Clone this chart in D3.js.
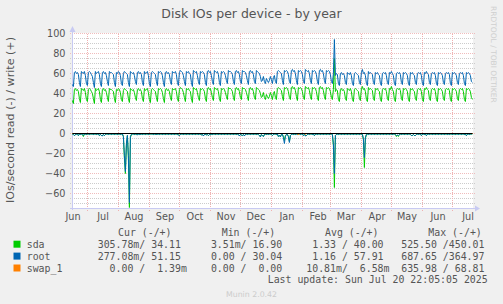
<!DOCTYPE html>
<html>
<head>
<meta charset="utf-8">
<script src="https://cdn.jsdelivr.net/npm/d3@7"></script>
<style>
  body { margin: 0; background: #f0f0f0; }
  svg { display: block; }
  text { font-family: "DejaVu Sans", sans-serif; fill: #555; }
  .mono { font-family: "DejaVu Sans Mono", monospace; white-space: pre; font-size: 9.9px; }
</style>
</head>
<body>
<svg id="chart" width="503" height="304"></svg>
<script>
// daily averages, Jun 15 2024 (Sat) .. Jul 20 2025 (Sun), one row per week (Sat..Fri)
const rootWrite = [
49,47,61,62,60,61,59, 51,47,62,61,60,62,58, 50,48,61,62,61,59,57, 51,46,62,60,61,62,59,
50,47,61,62,60,61,58, 52,48,62,61,61,60,59, 51,47,61,60,62,61,58, 50,48,60,62,61,60,59,
51,47,62,61,60,61,58, 52,49,61,62,60,61,59, 51,48,62,60,61,62,58, 50,47,61,62,61,60,59,
52,48,62,61,62,61,58, 51,47,61,62,60,61,59, 52,49,62,61,61,62,59, 51,48,61,63,62,61,58,
52,48,62,61,62,60,59, 51,47,63,62,61,62,58, 52,49,62,61,62,61,59, 51,48,62,63,61,62,58,
52,49,63,62,61,62,59, 51,48,62,61,62,61,58, 53,50,63,62,62,61,59, 52,49,62,63,61,62,59,
52,50,63,62,62,61,58, 53,49,62,63,61,62,59, 52,50,63,62,61,60,57, 52,53,57,52,50,55,53,
51,53,57,54,50,56,58, 52,50,62,63,62,61,60, 53,49,63,62,63,62,59, 52,50,63,64,62,63,60,
53,49,63,62,63,62,59, 52,50,64,63,62,63,60, 53,50,63,62,63,62,59, 52,49,63,64,62,63,60,
53,50,63,62,63,62,59, 52,50,60,94,58,60,59, 50,48,60,61,59,60,58, 51,49,61,60,59,61,58,
50,48,60,61,60,59,58, 51,49,61,64,60,61,58, 50,48,62,60,61,60,59, 51,49,61,60,61,59,58,
50,48,60,61,60,61,58, 51,49,61,60,62,60,58, 50,48,60,61,60,61,59, 51,49,61,60,61,60,58,
50,48,61,60,61,59,58, 51,49,60,61,60,61,58, 50,48,61,60,62,60,59, 51,49,60,61,60,61,58,
50,48,61,60,61,60,58, 51,49,60,61,60,61,59, 50,48,61,60,61,60,58, 51,49,60,61,60,61,58,
50,48,61,60,61,60,58, 52,51.15
];
const sdaWrite = [
33,30,44,45,43,44,42, 35,31,45,44,43,45,41, 34,32,44,45,44,42,40, 35,30,45,43,44,45,42,
34,31,44,45,43,44,41, 36,32,45,44,44,43,42, 35,31,44,43,45,44,41, 34,32,43,45,44,43,42,
35,31,45,44,43,44,41, 36,33,44,45,43,44,42, 35,32,45,43,44,45,41, 34,31,44,45,44,43,42,
36,32,45,44,45,44,41, 35,31,44,45,43,44,42, 36,33,45,44,44,45,42, 35,32,44,46,45,44,41,
36,32,45,44,45,43,42, 35,31,46,45,44,45,41, 36,33,45,44,45,44,42, 35,32,45,46,44,45,41,
36,33,46,45,44,45,42, 35,32,45,44,45,44,41, 37,34,46,45,45,44,42, 36,33,45,46,44,45,42,
36,34,46,45,45,44,41, 37,33,45,46,44,45,42, 36,34,46,45,44,43,40, 36,37,41,36,34,39,37,
35,37,41,38,34,40,42, 36,34,45,46,45,44,43, 37,33,46,45,46,45,42, 36,34,46,47,45,46,43,
37,33,46,45,46,45,42, 36,34,47,46,45,46,43, 37,34,46,45,46,45,42, 36,33,46,47,45,46,43,
37,34,46,45,46,45,42, 36,34,44,75,42,44,43, 34,32,44,45,43,44,42, 35,33,45,44,43,45,42,
34,32,44,45,44,43,42, 35,33,45,47,44,45,42, 34,32,46,44,45,44,43, 35,33,45,44,45,43,42,
34,32,44,45,44,45,42, 35,33,45,44,47,44,42, 34,32,44,45,44,45,43, 35,33,45,44,45,44,42,
34,32,45,44,45,43,42, 35,33,44,45,44,45,42, 34,32,45,44,46,44,43, 35,33,44,45,44,45,42,
34,32,45,44,45,44,42, 35,33,44,45,44,45,43, 34,32,45,44,45,44,42, 35,33,44,45,44,45,42,
34,32,45,44,45,44,42, 36,34.11
];
// reads, drawn below zero
const sdaRead = [
0.5,1,2,1,0.5,1,2,0.5,1,0.5,1,3,0.5,0.5,1,0.5,0.5,1,0.5,0.5,
0.5,1,0.5,0.5,1,0.5,0.5,2,1,2,2,1,2,1,0.5,0.5,1,0.5,0.5,1,
0.5,0.5,1,0.5,0.5,1,0.5,0.5,1,0.5,0.5,3,25,40,12,2,25,74,4,1,
0.5,0.5,1,0.5,1,1,0.5,1,1,0.5,1,0.5,0.5,1,0.5,0.5,1,0.5,0.5,0.5,
0.5,1,0.5,0.5,1.5,0.5,0.5,1,0.5,0.5,1,0.5,0.5,1,0.5,0.5,1,0.5,0.5,1,
0.5,0.5,1,0.5,0.5,1,1,2,1,0.5,0.5,1,0.5,0.5,1,0.5,0.5,1,0.5,0.5,
1,0.5,0.5,1,0.5,0.5,1,0.5,0.5,1.5,1,2,1,0.5,1.5,1,2,1,1.5,0.5,
1,0.5,0.5,1,0.5,0.5,1,0.5,0.5,1,0.5,0.5,1,0.5,0.5,1,0.5,0.5,1,0.5,
0.5,1,0.5,0.5,1,0.5,1,2,1,1.5,2,1,2,1,0.5,1,0.5,0.5,1,0.5,
0.5,1,0.5,0.5,1,0.5,1,2,3,1,2,3,1,0.5,1,0.5,1,0.5,0.5,1,
2,1,0.5,0.5,1,0.5,3,2,3,1,1,3,7,2,1,1,3,8,2,1,
0.5,1,0.5,1,0.5,1,1,0.5,1,0.5,0.5,2,1,2,2,1,0.5,1,0.5,0.5,
1,0.5,2,1,0.5,1,0.5,0.5,1,0.5,0.5,1,0.5,0.5,1,0.5,0.5,1,0.5,0.5,
1,12,54,2,1,0.5,1,0.5,0.5,1,0.5,0.5,1,0.5,0.5,1,0.5,0.5,1,0.5,
0.5,1,0.5,0.5,1,0.5,0.5,1,0.5,0.5,1,6,34,5,1,0.5,1,0.5,0.5,1,
0.5,0.5,1,0.5,0.5,1,0.5,0.5,1,0.5,0.5,1,0.5,0.5,1,0.5,0.5,1,0.5,0.5,
1,0.5,0.5,1,3,2,3,1,0.5,1,0.5,0.5,1,0.5,0.5,1,0.5,0.5,1,2,
2,1,2,2,1,0.5,1,0.5,0.5,2,1,0.5,1,0.5,2,1,0.5,1,0.5,0.5,
1,0.5,0.5,1,0.5,0.5,1,0.5,0.5,1,0.5,0.5,1,0.5,0.5,1,0.5,1,0.5,0.5,
1,0.5,0.5,1,0.5,0.5,1,0.5,0.5,1,0.5,0.5,1,0.5,2,1,0.5,1,0.5,0.5,
0.31
];
const rootRead = [
0.5,1,2,1.5,0.5,1,2,0.5,1,0.5,1,2,0.5,0.5,1,0.5,0.5,1,0.5,0.5,
0.5,1,0.5,0.5,1,0.5,0.5,2,1,2,2.5,1,2,1,0.5,0.5,1,0.5,0.5,1,
0.5,0.5,1,0.5,0.5,1,0.5,0.5,1,0.5,0.5,3,22,38,10,2,22,69,3,1,
0.5,0.5,1,0.5,1,1.5,0.5,1,1,0.5,1,0.5,0.5,1,0.5,0.5,1,0.5,0.5,0.5,
0.5,1,0.5,0.5,1.5,0.5,0.5,1,0.5,0.5,1,0.5,0.5,1,0.5,0.5,1,0.5,0.5,1,
0.5,0.5,1,0.5,0.5,1,1.5,2,1,0.5,0.5,1,0.5,0.5,1,0.5,0.5,1,0.5,0.5,
1,0.5,0.5,1,0.5,0.5,1,0.5,0.5,1.5,1,2.5,1,0.5,1.5,1,2,1,1.5,0.5,
1,0.5,0.5,1,0.5,0.5,1,0.5,0.5,1,0.5,0.5,1,0.5,0.5,1,0.5,0.5,1,0.5,
0.5,1,0.5,0.5,1,0.5,1,2.5,1,1.5,2,1,2.5,1,0.5,1,0.5,0.5,1,0.5,
0.5,1,0.5,0.5,1,0.5,1,2,3.5,1,2,3,1,0.5,1,0.5,1,0.5,0.5,1,
2,1,0.5,0.5,1,0.5,3,2,3.5,1,1,4,10,3,1,1,3,9,2,1,
0.5,1,0.5,1,0.5,1,1,0.5,1,0.5,0.5,2,1,2.5,2,1,0.5,1,0.5,0.5,
1,0.5,2,1,0.5,1,0.5,0.5,1,0.5,0.5,1,0.5,0.5,1,0.5,0.5,1,0.5,0.5,
1,10,40,2,1,0.5,1,0.5,0.5,1,0.5,0.5,1,0.5,0.5,1,0.5,0.5,1,0.5,
0.5,1,0.5,0.5,1,0.5,0.5,1,0.5,0.5,1,5,24,4,1,0.5,1,0.5,0.5,1,
0.5,0.5,1,0.5,0.5,1,0.5,0.5,1,0.5,0.5,1,0.5,0.5,1,0.5,0.5,1,0.5,0.5,
1,0.5,0.5,1,2,1.5,2,1,0.5,1,0.5,0.5,1,0.5,0.5,1,0.5,0.5,1,2,
2,1,2,2,1,0.5,1,0.5,0.5,2,1,0.5,1,0.5,2,1,0.5,1,0.5,0.5,
1,0.5,0.5,1,0.5,0.5,1,0.5,0.5,1,0.5,0.5,1,0.5,0.5,1,0.5,1,0.5,0.5,
1,0.5,0.5,1,0.5,0.5,1,0.5,0.5,1,0.5,0.5,1,0.5,2,1,0.5,1,0.5,0.5,
0.28
];
const swapRead = [
0,0,0,0,0,0,0,0,0,0,0,0,0,0,0,0,0,0,0,0, 0,0,0,0,0,0,0,0,0,0,0,0,0,0,0,0,0,0,0,0,
0,0,0,0,0,0,0,0,0,0,0,0,0,0,0,0,0,0,0,0, 0,0,0,0,0,0,0,0,0,0,0,0,0,0,0,0,0,0,0,0,
0,0,0,0,0,0,0,0,0,0,0,0,0,0,0,0,0,0,0,0, 0,0,0,0,0,0,0,0,0,0,0,0,0,0,0,0,0,0,0,0,
0,0,0,0,0,0,0,0,0,0,0,0,0,0,0,0,0,0,0,0, 0,0,0,0,0,0,0,0,0,0,0,0,0,0,0,0,0,0,0,0,
0,0,0,0,0,0,0,0,0,0,0,0,0,0,0,0,0,0,0,0, 0,0,0,0,0,0,0,0,0,0,0,0,0,0,0,0,0,0,0,0,
0,0,0,0,0,0,0,0,0,0,0,0,0,0,0,0,0,0,0,0, 0,0,0,0,0,0,1.5,0,0,0,0,0,0,1,0,0,0,0,0,0,
0,0,0,0,0,0,0,0,0,0,0,0,0,0,0,0,0,0,0,0, 0,0,0,0,0,0,0,0,0,0,0,0,0,0,0,0,0,0,0,0,
0,0,0,0,0,0,0,0,0,0,0,0,0,0,0,0,0,0,0,0, 0,0,0,0,0,0,0,0,0,0,0,0,0,0,0,0,0,0,0,0,
0,0,0,0,0,0,0,0,0,0,0,0,0,0,0,0,0,0,0,0, 0,0,0,0,0,0,0,0,0,0,0,0,0,0,0,0,0,0,0,0,
0,0,0,0,0,0,0,0,0,0,0,0,0,0,0,0,0,0,0,0, 0,0,0,0,0,0,0,0,0,0,0,0,0,0,0,0,0,0,0,0,
0
];
const swapWrite = [
0,0,0,0,0,0,0,0,0,0,0,0,0,0,0,0,0,0,0,0, 0,0,0,0,0,0,0,0,0,0,0,0,0,0,0,0,0,0,0,0,
0,0,0,0,0,0,0,0,0,0,0,0,0,0,0,0,0,0,0,0, 0,0,0,0,0,0,0,0,0,0,0,0,0,0,0,0,0,0,0,0,
0,0,0,0,0,0,0,0,0,0,0,0,0,0,0,0,0,0,0,0, 0,0,0,0,0,0,0,0,0,0,0,0,0,0,0,0,0,0,0,0,
0,0,0,0,0,0,0,0,0,0,0,0,0,0,0,0,0,0,0,0, 0,0,0,0,0,0,0,0,0,0,0,0,0,0,0,0,0,0,0,0,
0,0,0,0,0,0,0,0,0,0,0,0,0,0,0,0,0,0,0,0, 0,0,0,0,0,0,0,0,0,0,0,0,0,0,0,0,0,0,0,0,
0,0,0,0,0,0,0,0,0,0,0,0,0,0,0,0,0,0,0,0, 0,0,0,0,0,0,0,0,0,0,0,0,0,0,0,0,0,0,0,0,
0,0,0,0,0,0,0,0,0,0,0,0,0,0,0,0,0,0,0,0, 0,0,0,0,0,0,0,0,0,0,0,0,0,0,0,0,0,0,0,0,
0,0,0,0,0,0,0,0,0,0,0,0,0,0,0,0,0,0,0,0, 0,0,0,0,0,0,0,0,0,0,0,0,0,0,0,0,0,0,0,0,
0,0,0,0,0,0,0,0,0,0,0,0,0,0,0,0,0,0,0,0, 0,0,0,0,0,0,0,0,0,0,0,0,0,0,0,0,0,0,0,0,
0,0,0,0,0,0,0,0,0,0,0,0,0,0,0,0,0,0,0,0, 0,0,0,0,0,0,0,0,0,0,0,0,0,0,0,0,0,0,0,0,
0
];

const yTicks = [-60, -40, -20, 0, 20, 40, 60, 80, 100];
const names = ['sda', 'root', 'swap_1'];
const colors = ['#00cc00', '#0066b3', '#ff8000'];
const headers = ['Cur (-/+)', 'Min (-/+)', 'Avg (-/+)', 'Max (-/+)'];
const curVals = ['305.78m/ 34.11', '277.08m/ 51.15', '  0.00 /  1.39m'];
const minVals = ['  3.51m/ 16.90', '  0.00 / 30.04', '  0.00 /  0.00'];
const avgVals = ['  1.33 / 40.00', '  1.16 / 57.91', ' 10.81m/  6.58m'];
const maxVals = ['525.50 /450.01', '687.65 /364.97', '635.98 / 68.81'];

const svg = d3.select('#chart');
svg.append('rect').attr('width', 503).attr('height', 304).attr('fill', '#f0f0f0');

const end = new Date(Date.UTC(2025, 6, 20, 22, 5, 5));
const start = d3.utcDay.offset(end, -400);
const x = d3.scaleUtc().domain([start, end]).range([72.4, 472.4]);
const y = d3.scaleLinear().domain([-75, 100]).range([208.5, 33.5]);

svg.append('rect').attr('x', 72).attr('y', 33).attr('width', 401).attr('height', 176).attr('fill', '#fff');

const gridStyle = (g, color) => {
  g.select('.domain').remove();
  g.selectAll('.tick line').attr('stroke', color).attr('stroke-dasharray', '1,1')
    .attr('shape-rendering', 'crispEdges');
};

// minor horizontal grid
const minor = d3.range(-75, 101, 5).filter(v => !yTicks.includes(v));
svg.append('g').attr('transform', 'translate(70,0)')
  .call(d3.axisLeft(y).tickValues(minor).tickSize(-404.5).tickFormat('').offset(0))
  .call(g => gridStyle(g, '#cccccc'));
// major horizontal grid
svg.append('g').attr('transform', 'translate(70,0)')
  .call(d3.axisLeft(y).tickValues(yTicks).tickSize(-404.5).tickFormat('').offset(0))
  .call(g => gridStyle(g, '#f0bcbc'));
// month grid
const months = d3.utcMonth.range(start, end);
svg.append('g').attr('transform', 'translate(0,211)')
  .call(d3.axisBottom(x).tickValues(months).tickSize(-178).tickFormat('').offset(0))
  .call(g => gridStyle(g, '#f0b0b0'));

// axes
const axisColor = '#c8caf2';
svg.append('line').attr('x1', 72.5).attr('x2', 72.5).attr('y1', 210).attr('y2', 29)
  .attr('stroke', axisColor);
svg.append('line').attr('x1', 70).attr('x2', 476).attr('y1', 208.5).attr('y2', 208.5)
  .attr('stroke', axisColor);
svg.append('path').attr('d', 'M69.5,32 L72.5,26 L75.5,32 Z').attr('fill', axisColor);
svg.append('path').attr('d', 'M475,205.5 L480,208.5 L475,211.5 Z').attr('fill', axisColor);

// y labels
svg.append('g').attr('transform', 'translate(66,0)')
  .call(d3.axisLeft(y).tickValues(yTicks).tickSize(0).tickPadding(0.5))
  .call(g => {
    g.select('.domain').remove();
    g.selectAll('text').attr('font-size', '9.7px').attr('font-family', '"DejaVu Sans"').attr('fill', '#555');
  });

// month labels, centred half a month after the month start
const mids = d3.utcMonth.range(d3.utcMonth.floor(start), end)
  .map(d => d3.utcDay.offset(d, 15))
  .filter(d => d >= start && d <= end);
svg.append('g').attr('transform', 'translate(0,208.5)')
  .call(d3.axisBottom(x).tickValues(mids).tickSize(0).tickPadding(4.4).tickFormat(d3.utcFormat('%b')))
  .call(g => {
    g.select('.domain').remove();
    g.selectAll('text').attr('font-size', '9.7px').attr('font-family', '"DejaVu Sans"').attr('fill', '#555');
  });

// series
const dates = sdaWrite.map((d, i) => d3.utcDay.offset(start, i));
const line = d3.line().x((d, i) => x(dates[i])).y(d => y(d));
const drawn = [
  [sdaRead, -1, 0], [sdaWrite, 1, 0],
  [rootRead, -1, 1], [rootWrite, 1, 1],
  [swapRead, -1, 2], [swapWrite, 1, 2]
];
svg.append('g').attr('class', 'series')
  .selectAll('path')
  .data(drawn)
  .join('path')
  .attr('d', d => line(d[0].map(v => v * d[1])))
  .attr('fill', 'none')
  .attr('stroke', d => colors[d[2]])
  .attr('stroke-width', 1);

// zero rule
svg.append('line').attr('x1', 72.5).attr('x2', 472.5).attr('y1', y(0)).attr('y2', y(0))
  .attr('stroke', '#000').attr('stroke-width', 1);

// titles
svg.append('text').attr('x', 251.5).attr('y', 18).attr('text-anchor', 'middle')
  .attr('font-size', '12.5px').text('Disk IOs per device - by year');
svg.append('text').attr('transform', 'translate(13.5,120) rotate(-90)').attr('text-anchor', 'middle')
  .attr('font-size', '11.1px').text('IOs/second read (-) / write (+)');
svg.append('text').attr('transform', 'translate(490.5,6) rotate(90)')
  .attr('font-size', '7.5px').style('fill', '#cfcfcf')
  .text('RRDTOOL / TOBI OETIKER');

// legend
const colX = [97.7, 199, 300.3, 401.2];
const headX = [118, 221.7, 325, 428.3];
const legend = svg.append('g').attr('class', 'legend');
legend.selectAll('text.head').data(headers).join('text')
  .attr('class', 'head mono').attr('x', (d, i) => headX[i]).attr('y', 235.5).text(d => d);
const rows = legend.selectAll('g.row').data(names).join('g')
  .attr('class', 'row').attr('transform', (d, i) => `translate(0, ${247.7 + i * 11.9})`);
rows.append('rect').attr('x', 13.5).attr('y', -7).attr('width', 7).attr('height', 7)
  .attr('fill', (d, i) => colors[i]);
rows.append('text').attr('class', 'mono').attr('x', 26.7).text(d => d);
[curVals, minVals, avgVals, maxVals].forEach((vals, c) => {
  rows.append('text').attr('class', 'mono').attr('x', colX[c]).text((d, i) => vals[i]);
});
legend.append('text').attr('class', 'mono').attr('x', 267.7).attr('y', 283.4)
  .text('Last update: Sun Jul 20 22:05:05 2025');
svg.append('text').attr('x', 251.5).attr('y', 297).attr('text-anchor', 'middle')
  .attr('font-size', '7.8px').style('fill', '#cccccc').text('Munin 2.0.42');
</script>
</body>
</html>
